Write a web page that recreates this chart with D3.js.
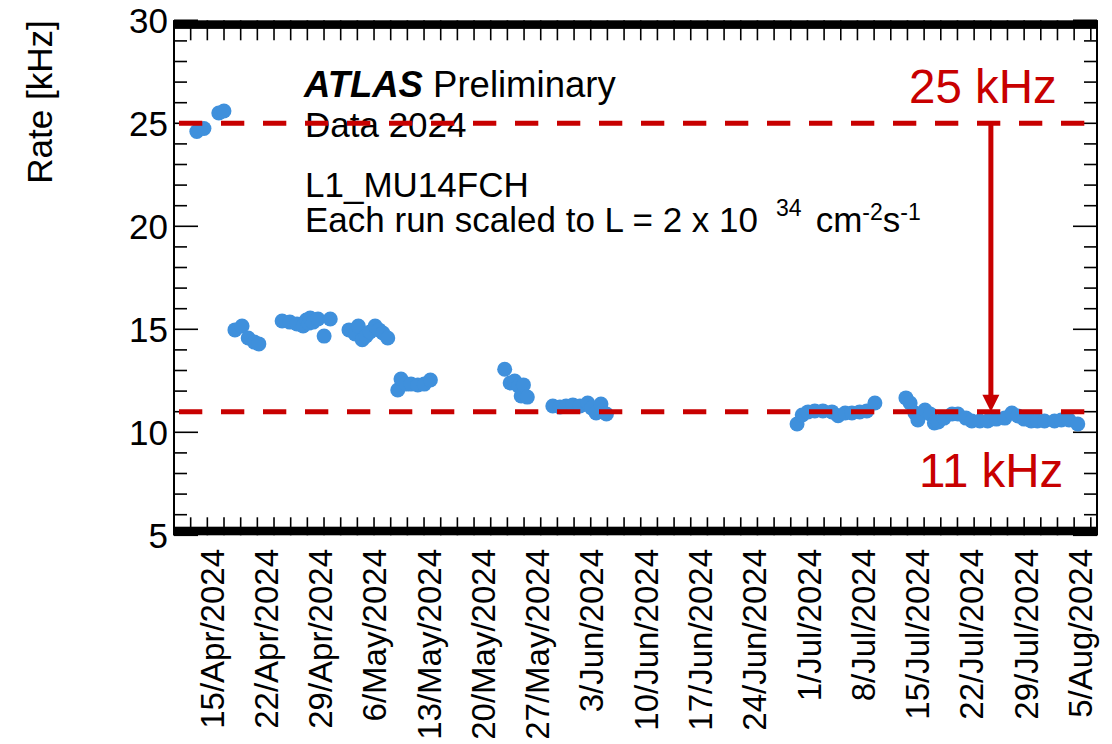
<!DOCTYPE html>
<html>
<head>
<meta charset="utf-8">
<script src="https://cdn.jsdelivr.net/npm/d3@7"></script>
<style>
  html, body { margin: 0; padding: 0; background: #fff; }
  svg text { font-family: "Liberation Sans", Arial, Helvetica, sans-serif; }
</style>
</head>
<body>
<svg id="chart" width="1112" height="744"></svg>
<script>
// L1_MU14FCH rate per run, scaled to L = 2e34 cm^-2 s^-1
const runTimes = [
  "2024-04-13T02:00Z", "2024-04-14T00:00Z", "2024-04-15T22:00Z", "2024-04-16T14:00Z",
  "2024-04-18T00:00Z", "2024-04-18T22:00Z", "2024-04-19T17:00Z", "2024-04-20T12:00Z", "2024-04-21T02:00Z",
  "2024-04-24T02:00Z", "2024-04-25T02:00Z", "2024-04-26T00:00Z", "2024-04-26T19:00Z", "2024-04-27T05:00Z",
  "2024-04-27T13:00Z", "2024-04-27T17:00Z", "2024-04-28T02:00Z", "2024-04-28T17:00Z", "2024-04-29T12:00Z",
  "2024-04-30T07:00Z",
  "2024-05-02T17:00Z", "2024-05-03T12:00Z", "2024-05-03T22:00Z", "2024-05-04T10:00Z", "2024-05-04T22:00Z",
  "2024-05-05T10:00Z", "2024-05-06T02:00Z", "2024-05-06T14:00Z", "2024-05-07T02:00Z", "2024-05-07T17:00Z",
  "2024-05-09T00:00Z", "2024-05-09T10:00Z", "2024-05-10T02:00Z", "2024-05-10T17:00Z", "2024-05-11T14:00Z",
  "2024-05-12T10:00Z", "2024-05-13T05:00Z",
  "2024-05-22T19:00Z", "2024-05-23T12:00Z", "2024-05-24T02:00Z", "2024-05-24T14:00Z", "2024-05-24T22:00Z",
  "2024-05-25T05:00Z", "2024-05-25T17:00Z",
  "2024-05-29T00:00Z", "2024-05-29T22:00Z", "2024-05-30T17:00Z", "2024-05-31T14:00Z", "2024-06-01T12:00Z",
  "2024-06-02T12:00Z", "2024-06-03T00:00Z", "2024-06-03T14:00Z", "2024-06-04T05:00Z", "2024-06-04T22:00Z",
  "2024-06-29T12:00Z", "2024-06-30T04:00Z", "2024-06-30T22:00Z", "2024-07-01T19:00Z", "2024-07-02T20:00Z",
  "2024-07-04T00:00Z", "2024-07-04T19:00Z", "2024-07-05T17:00Z", "2024-07-06T14:00Z", "2024-07-07T14:00Z",
  "2024-07-08T12:00Z", "2024-07-09T13:00Z",
  "2024-07-13T13:00Z", "2024-07-14T02:00Z", "2024-07-14T17:00Z", "2024-07-15T02:00Z", "2024-07-16T00:00Z",
  "2024-07-16T16:00Z", "2024-07-17T05:00Z", "2024-07-17T17:00Z", "2024-07-18T11:00Z", "2024-07-19T12:00Z",
  "2024-07-20T06:00Z", "2024-07-21T07:00Z", "2024-07-22T01:00Z", "2024-07-23T02:00Z", "2024-07-24T02:00Z",
  "2024-07-25T05:00Z", "2024-07-26T07:00Z", "2024-07-27T05:00Z", "2024-07-28T00:00Z", "2024-07-28T19:00Z",
  "2024-07-29T17:00Z", "2024-07-30T12:00Z", "2024-07-31T10:00Z", "2024-08-01T17:00Z", "2024-08-02T14:00Z",
  "2024-08-03T14:00Z", "2024-08-04T17:00Z"
];
const runRates = [
  24.6, 24.75, 25.5, 25.6,
  14.97, 15.16, 14.58, 14.38, 14.29,
  15.4, 15.35, 15.26, 15.16, 15.45,
  15.3, 15.55, 15.35, 15.5, 14.67,
  15.5,
  14.97, 14.77, 15.16, 14.49, 14.68,
  14.87, 15.16, 14.97, 14.82, 14.58,
  12.05, 12.59, 12.34, 12.34, 12.3,
  12.34, 12.54,
  13.06, 12.39, 12.49, 12.25, 11.76,
  12.3, 11.71,
  11.28, 11.23, 11.28, 11.33, 11.28,
  11.42, 11.18, 10.94, 11.37, 10.89,
  10.4, 10.84, 10.99, 11.04, 11.04,
  10.99, 10.8, 10.94, 10.94, 10.99,
  11.04, 11.42,
  11.67, 11.42, 10.94, 10.6, 11.08,
  10.89, 10.45, 10.5, 10.69, 10.89,
  10.89, 10.69, 10.55, 10.55, 10.55,
  10.64, 10.69, 10.94, 10.79, 10.64,
  10.55, 10.55, 10.55, 10.55, 10.6,
  10.6, 10.4
];

// Weekly date labels on the time axis
const weekLabels = [
  "15/Apr/2024", "22/Apr/2024", "29/Apr/2024", "6/May/2024", "13/May/2024", "20/May/2024",
  "27/May/2024", "3/Jun/2024", "10/Jun/2024", "17/Jun/2024", "24/Jun/2024", "1/Jul/2024",
  "8/Jul/2024", "15/Jul/2024", "22/Jul/2024", "29/Jul/2024", "5/Aug/2024"
];
const weekDates = [
  "2024-04-15", "2024-04-22", "2024-04-29", "2024-05-06", "2024-05-13", "2024-05-20",
  "2024-05-27", "2024-06-03", "2024-06-10", "2024-06-17", "2024-06-24", "2024-07-01",
  "2024-07-08", "2024-07-15", "2024-07-22", "2024-07-29", "2024-08-05"
];
const timeDomain = ["2024-04-10T03:20Z", "2024-08-07T04:30Z"];
const minorStepHours = 51.6;

const yDomain = [5, 30];
const yMajor = [5, 10, 15, 20, 25, 30];

// Reference rates with the arrow between them
const limitHigh = 25;
const limitLow = 11;
const arrowTime = "2024-07-24T12:00Z";

const RED = "#c80000";
const BLUE = "#3f90dc";

const svg = d3.select("#chart");
const plotL = 174, plotR = 1097, plotT = 20.3, plotB = 535.3;

const x = d3.scaleUtc().domain(timeDomain.map(d => new Date(d))).range([plotL, plotR]);
const y = d3.scaleLinear().domain(yDomain).range([plotB, plotT]);

// Frame: thin sides, thick top and bottom bars
const frame = svg.append("g");
frame.append("line").attr("x1", plotL).attr("x2", plotL).attr("y1", plotT).attr("y2", plotB)
  .attr("stroke", "#000").attr("stroke-width", 2);
frame.append("line").attr("x1", plotR).attr("x2", plotR).attr("y1", plotT).attr("y2", plotB)
  .attr("stroke", "#000").attr("stroke-width", 2);

// x minor ticks on top and bottom
const t0 = x.domain()[0].getTime(), t1 = x.domain()[1].getTime();
const xTicks = d3.range(t0, t1, minorStepHours * 3600e3).slice(1).map(t => new Date(t));
const tickG = svg.append("g").attr("stroke", "#000").attr("stroke-width", 1.6);
xTicks.forEach(t => {
  tickG.append("line").attr("x1", x(t)).attr("x2", x(t)).attr("y1", plotB).attr("y2", plotB - 18);
  tickG.append("line").attr("x1", x(t)).attr("x2", x(t)).attr("y1", plotT).attr("y2", plotT + 20);
});

// y ticks on both sides: majors every 5, minors every 1
d3.range(yDomain[0], yDomain[1] + 1).forEach(v => {
  const len = v % 5 === 0 ? 24 : 13;
  tickG.append("line").attr("x1", plotL).attr("x2", plotL + len).attr("y1", y(v)).attr("y2", y(v));
  tickG.append("line").attr("x1", plotR).attr("x2", plotR - len).attr("y1", y(v)).attr("y2", y(v));
});

frame.append("rect").attr("x", plotL - 1).attr("y", plotT).attr("width", plotR - plotL + 2).attr("height", 8.6).attr("fill", "#000");
frame.append("rect").attr("x", plotL - 1).attr("y", plotB - 8.6).attr("width", plotR - plotL + 2).attr("height", 8.6).attr("fill", "#000");

// y tick labels
svg.append("g").selectAll("text").data(yMajor).join("text")
  .attr("x", plotL - 6).attr("y", d => y(d)).attr("dy", "0.36em")
  .attr("text-anchor", "end").attr("font-size", 35).attr("fill", "#000")
  .text(d => d);

// y title
svg.append("text")
  .attr("transform", `translate(52, ${plotT}) rotate(-90)`)
  .attr("text-anchor", "end").attr("font-size", 35).attr("fill", "#000")
  .text("Rate [kHz]");

// x date labels, rotated
svg.append("g").selectAll("text").data(weekDates).join("text")
  .attr("transform", d => `translate(${x(new Date(d + "T00:00Z"))}, 549) rotate(-90)`)
  .attr("dy", "0.36em")
  .attr("text-anchor", "end").attr("font-size", 33).attr("fill", "#000")
  .text((d, i) => weekLabels[i]);

// Runs
const runs = runTimes.map((t, i) => ({ t: new Date(t), v: runRates[i] }));
svg.append("g").selectAll("circle").data(runs).join("circle")
  .attr("cx", d => x(d.t)).attr("cy", d => y(d.v)).attr("r", 7.5)
  .attr("fill", BLUE);

// Annotation text block
const txt = svg.append("g").attr("font-size", 35).attr("fill", "#000");
const atl = txt.append("text").attr("x", 304).attr("y", 97).attr("font-size", 36.5);
atl.append("tspan").attr("font-weight", "bold").attr("font-style", "italic").text("ATLAS");
atl.append("tspan").text(" Preliminary");
txt.append("text").attr("x", 305).attr("y", 137).text("Data 2024");
txt.append("text").attr("x", 305).attr("y", 197).text("L1_MU14FCH");
const lum = txt.append("text").attr("x", 305).attr("y", 232);
lum.append("tspan").text("Each run scaled to L = 2 x 10");
lum.append("tspan").attr("dx", 18).attr("dy", -16).attr("font-size", 23).text("34");
lum.append("tspan").attr("dx", 14).attr("dy", 16).text("cm");
lum.append("tspan").attr("dy", -12).attr("font-size", 23).text("-2");
lum.append("tspan").attr("dy", 12).text("s");
lum.append("tspan").attr("dy", -12).attr("font-size", 23).text("-1");

// Reference lines
const lineX1 = plotL + 5, lineX2 = plotR - 12;
[limitHigh, limitLow].forEach(v => {
  svg.append("line").attr("x1", lineX1).attr("x2", lineX2).attr("y1", y(v)).attr("y2", y(v))
    .attr("stroke", RED).attr("stroke-width", 5).attr("stroke-dasharray", "23.3 18.7");
});

// Arrow from 25 kHz down to 11 kHz
const ax = x(new Date(arrowTime));
svg.append("line").attr("x1", ax).attr("x2", ax).attr("y1", y(limitHigh)).attr("y2", y(limitLow) - 14)
  .attr("stroke", RED).attr("stroke-width", 5);
svg.append("path")
  .attr("d", `M${ax - 8.5},${y(limitLow) - 17} L${ax + 8.5},${y(limitLow) - 17} L${ax},${y(limitLow)} Z`)
  .attr("fill", RED);

svg.append("text").attr("x", 909).attr("y", 103).attr("font-size", 47.5).attr("fill", RED).text(limitHigh + " kHz");
svg.append("text").attr("x", 919).attr("y", 487).attr("font-size", 47.5).attr("fill", RED).text(limitLow + " kHz");
</script>
</body>
</html>
